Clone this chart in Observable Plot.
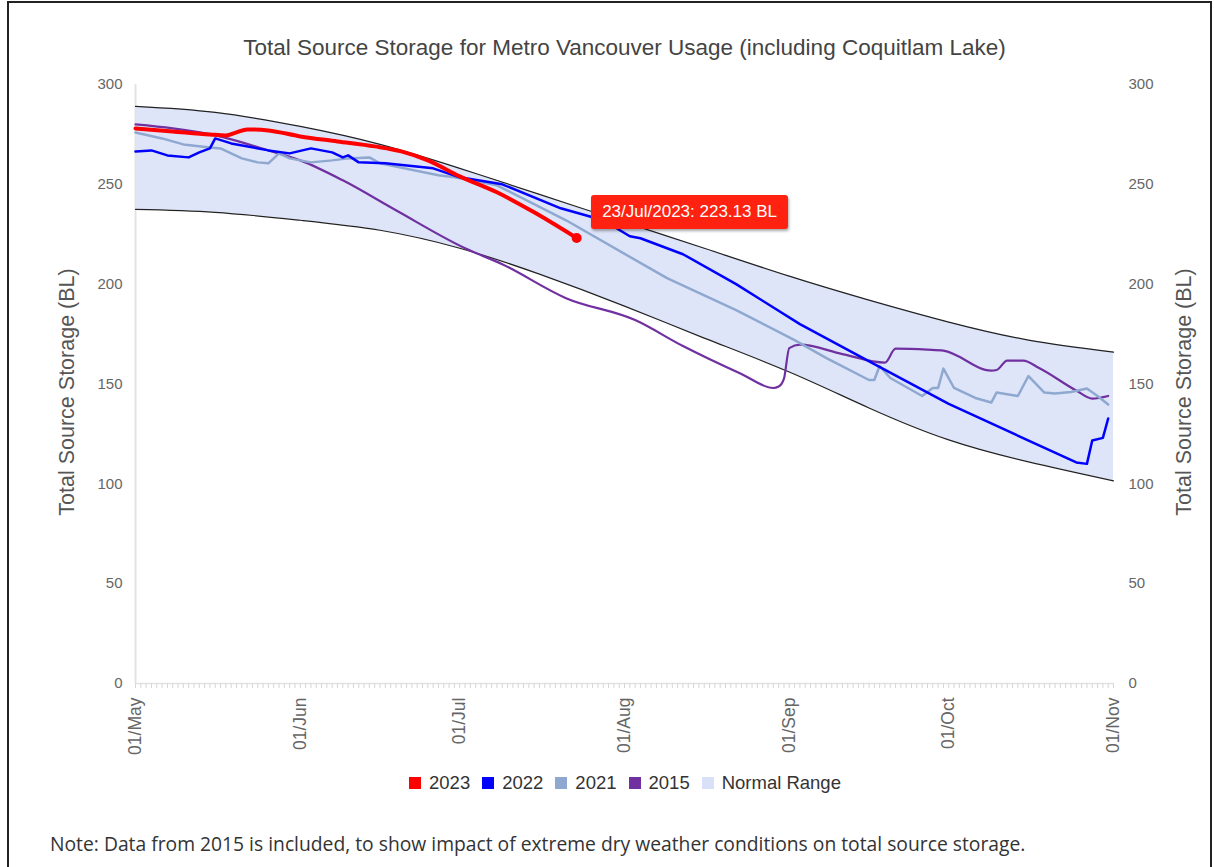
<!DOCTYPE html>
<html>
<head>
<meta charset="utf-8">
<script src="https://cdn.jsdelivr.net/npm/d3@7"></script>
<script src="https://cdn.jsdelivr.net/npm/@observablehq/plot@0.6"></script>
<style>
  html, body { margin: 0; padding: 0; background: #fff; }
  body { width: 1214px; height: 867px; position: relative; overflow: hidden; font-family: "Liberation Sans", Arial, sans-serif; }
  #frame { position: absolute; left: 7px; top: 1px; width: 1205px; height: 900px; border: 2px solid #222; box-sizing: border-box; pointer-events: none; }
  #chart { position: absolute; left: 0; top: 0; }
  #title { position: absolute; top: 35px; left: 0; width: 1249px; text-align: center; font-size: 22.5px; color: #444; }
  .ytitle { position: absolute; top: 392px; font-size: 21.5px; color: #555; white-space: nowrap; transform: translate(-50%, -50%) rotate(-90deg); }
  #legend { position: absolute; top: 772px; left: 0; width: 1250px; display: flex; justify-content: center; gap: 12px; font-size: 18.5px; color: #333; }
  #legend span.item { display: inline-flex; align-items: center; gap: 8px; }
  #legend i { display: inline-block; width: 12px; height: 12px; }
  #note { position: absolute; top: 830px; left: 50px; font-family: "Open Sans", "Noto Sans", sans-serif; font-size: 19.3px; color: #333; white-space: nowrap; }
  #tip { position: absolute; background: #f21; color: #fff; font-size: 17px; padding: 7px 11px; border-radius: 3px; box-shadow: 1px 2px 3px rgba(0,0,0,0.35); white-space: nowrap; }
</style>
</head>
<body>
<div id="chart"></div>
<div id="title">Total Source Storage for Metro Vancouver Usage (including Coquitlam Lake)</div>
<div class="ytitle" style="left:67px">Total Source Storage (BL)</div>
<div class="ytitle" style="left:1184px">Total Source Storage (BL)</div>
<div id="legend"></div>
<div id="note">Note: Data from 2015 is included, to show impact of extreme dry weather conditions on total source storage.</div>
<div id="frame"></div>
<script>
// ---------- data (dates are month-day, plotted on a common May–Nov axis) ----------
const normalDates = ["05-01","05-16","06-01","06-16","07-01","07-16","08-01","08-16","09-01","09-16","10-01","10-16","11-01"];
const normalUpper = [289, 286, 279, 270, 258, 245, 231, 218, 204, 192, 181, 172, 166];
const normalLower = [237.5, 236, 232, 227, 218, 205, 189, 173, 156, 138, 122, 111, 101.5];

const dates2023 = ["05-01","05-08","05-15","05-18","05-20","05-22","05-26","06-01","06-08","06-15","06-20","06-25","07-01","07-08","07-15","07-23"];
const values2023 = [278, 276.5, 275, 274.5, 276, 277.5, 277, 274, 271.5, 269, 266.5, 262, 254, 246, 236, 223.13];

const dates2022 = ["05-01","05-04","05-07","05-11","05-13","05-15","05-16","05-19","05-26","05-30","06-03","06-07","06-09","06-10","06-12","06-17","06-26","07-01","07-09","07-20","07-28","08-02","08-04","08-12","08-22","09-03","09-17","10-01","10-25","10-27","10-28","10-30","10-31"];
const values2022 = [266.5, 267, 264.5, 263.5, 266, 268, 273, 270.5, 267, 265.5, 268, 266, 263.5, 264.5, 261, 260.5, 258, 253.5, 250, 238, 232, 224, 223, 215, 200, 180, 160, 140, 110.7, 110, 121.7, 123, 132.7];

const dates2021 = ["05-01","05-06","05-10","05-15","05-17","05-19","05-21","05-24","05-26","05-28","05-30","06-03","06-07","06-10","06-14","06-16","06-27","06-30","07-08","07-21","08-09","08-22","09-02","09-08","09-16","09-17","09-18","09-20","09-26","09-28","09-29","09-30","10-02","10-06","10-09","10-10","10-14","10-16","10-19","10-21","10-24","10-27","10-29","10-31"];
const values2021 = [276, 273, 270, 268.5, 268, 265.5, 263, 261, 260.5, 265.5, 263, 261, 262, 263, 263.5, 260.5, 254.5, 253.5, 249.5, 232, 203, 187, 172, 163, 152, 152, 159, 153, 144, 148, 148, 157.7, 148, 143, 140.7, 145.7, 144, 154, 145.7, 145.2, 146, 147.7, 144, 139.7];

const dates2015 = ["05-01","05-08","05-16","05-26","06-01","06-09","06-19","07-02","07-09","07-21","08-03","08-12","08-23","08-29","08-30","08-31","09-01","09-03","09-11","09-19","09-21","09-27","09-30","10-09","10-10","10-12","10-15","10-18","10-25","10-28","10-31"];
const values2015 = [280, 278, 274.5, 267, 262, 252, 237, 218, 210, 193, 182, 169, 155, 148, 148.7, 152.7, 168, 169.7, 165, 160.7, 167.7, 167.2, 166.7, 156.7, 157, 161.7, 161.7, 158, 146.7, 142.7, 144];

const yTicks = [0, 50, 100, 150, 200, 250, 300];
const seriesNames = ["2023", "2022", "2021", "2015", "Normal Range"];
const seriesColors = ["#ff0000", "#0000ff", "#8fa8d0", "#7030a0", "#d8e1f8"];
const tipDate = "07-23";
const tipText = "23/Jul/2023: 223.13 BL";

// ---------- build tables ----------
const toDate = md => new Date(`2023-${md}T00:00:00Z`);
const normal = normalDates.map((d, i) => ({date: toDate(d), upper: normalUpper[i], lower: normalLower[i]}));
const mk = (dates, vals) => dates.map((d, i) => ({date: toDate(d), value: vals[i]}));
const s2023 = mk(dates2023, values2023);
const s2022 = mk(dates2022, values2022);
const s2021 = mk(dates2021, values2021);
const s2015 = mk(dates2015, values2015);
const last2023 = s2023[s2023.length - 1];

const W = 1214, H = 770;
const chart = Plot.plot({
  width: W, height: H,
  marginLeft: 135, marginRight: 101, marginTop: 84, marginBottom: 87,
  style: {fontFamily: '"Liberation Sans", Arial, sans-serif', fontSize: "15px", color: "#666", background: "transparent"},
  x: {type: "utc", domain: [toDate("05-01"), toDate("11-01")]},
  y: {domain: [0, 300]},
  marks: [
    Plot.areaY(normal, {x: "date", y1: "lower", y2: "upper", curve: "natural", fill: seriesColors[4], fillOpacity: 0.85}),
    Plot.ruleY([0], {stroke: "#e3e3e3", strokeWidth: 1.5}),
    Plot.ruleX([toDate("05-01")], {stroke: "#e3e3e3", strokeWidth: 2}),
    Plot.lineY(normal, {x: "date", y: "upper", curve: "natural", stroke: "#222", strokeWidth: 1.2}),
    Plot.lineY(normal, {x: "date", y: "lower", curve: "natural", stroke: "#222", strokeWidth: 1.2}),
    Plot.lineY(s2015, {x: "date", y: "value", curve: "monotone-x", stroke: seriesColors[3], strokeWidth: 2.2}),
    Plot.lineY(s2021, {x: "date", y: "value", stroke: seriesColors[2], strokeWidth: 2.5}),
    Plot.lineY(s2022, {x: "date", y: "value", stroke: seriesColors[1], strokeWidth: 2.5}),
    Plot.lineY(s2023, {x: "date", y: "value", curve: "monotone-x", stroke: seriesColors[0], strokeWidth: 4}),
    Plot.dot([last2023], {x: "date", y: "value", r: 5, fill: seriesColors[0]}),
    Plot.axisY({anchor: "left", ticks: yTicks, tickSize: 0, tickPadding: 13, label: null, fill: "#666", fontSize: 15}),
    Plot.axisY({anchor: "right", ticks: yTicks, tickSize: 0, tickPadding: 15, label: null, fill: "#666", fontSize: 15}),
    Plot.axisX({anchor: "bottom", ticks: "day", tickSize: 5, tickFormat: () => "", stroke: "#d6d6d6", label: null}),
    Plot.axisX({anchor: "bottom", ticks: "month", tickSize: 0, tickPadding: 14, tickRotate: -90, tickFormat: d3.utcFormat("%d/%b"), label: null, fill: "#666", fontSize: 17.5})
  ]
});
document.getElementById("chart").appendChild(chart);

// tooltip placed from the chart's own scales
const px = chart.scale("x").apply(toDate(tipDate));
const py = chart.scale("y").apply(last2023.value);
const tip = document.createElement("div");
tip.id = "tip";
tip.textContent = tipText;
tip.style.left = (px + 15) + "px";
tip.style.top = (py - 42) + "px";
document.body.appendChild(tip);

// legend
const legend = document.getElementById("legend");
seriesNames.forEach((n, i) => {
  const s = document.createElement("span");
  s.className = "item";
  s.innerHTML = `<i style="background:${seriesColors[i]}"></i>${n}`;
  legend.appendChild(s);
});
</script>
</body>
</html>
